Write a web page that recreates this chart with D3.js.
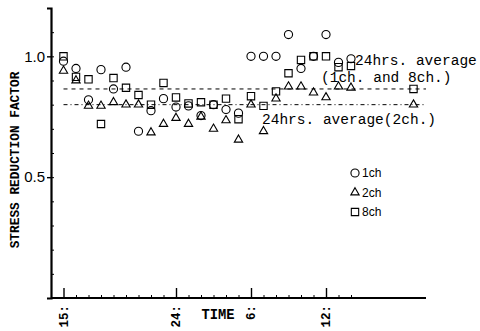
<!DOCTYPE html>
<html>
<head>
<meta charset="utf-8">
<script src="https://cdn.jsdelivr.net/npm/d3@7"></script>
<style>
  body { margin: 0; background: #fff; }
  svg { display: block; }
  .mono { font-family: "Liberation Mono", "DejaVu Sans Mono", monospace; }
</style>
</head>
<body>
<div id="chart"></div>
<script>
// hours counted from 15:00 on day one (24 = midnight, 30 = 6:00, 36 = 12:00)
var hours = [15, 16, 17, 18, 19, 20, 21, 22, 23, 24, 25, 26, 27, 28, 29, 30, 31, 32, 33, 34, 35, 36, 37, 38, 43];
var ch1 = [0.98, 0.95, 0.82, 0.945, 0.865, 0.955, 0.69, 0.775, 0.825, 0.79, 0.795, 0.755,
           0.80, 0.78, 0.765, 1.0, 1.0, 1.0, 1.09, 0.95, 1.0, 1.09, 0.975, 0.99, null];
var ch2 = [0.94, 0.90, 0.795, 0.795, 0.81, 0.80, 0.80, 0.685, 0.72, 0.745, 0.72, 0.75,
           0.70, 0.735, 0.655, 0.80, 0.69, 0.825, 0.875, 0.875, 0.85, 0.83, 0.875, 0.87, 0.80];
var ch8 = [1.0, 0.915, 0.905, 0.72, 0.91, 0.87, 0.84, 0.80, 0.89, 0.83, 0.805, 0.81,
           0.80, 0.825, 0.74, 0.835, 0.795, 0.855, 0.93, 0.985, 1.0, 1.0, 0.955, 0.96, 0.865];

var avg18 = 0.865;   // 24hrs average (1ch. and 8ch.)
var avg2 = 0.80;     // 24hrs average (2ch.)
var avgSpan = [15, 44];

var xTickHours = [15, 24, 30, 36];
var xTickLabels = ['15:', '24:', '6:', '12:'];
var yTickValues = [0.5, 1.0];
var yTickLabels = ['0.5', '1.0'];
var seriesNames = ['1ch', '2ch', '8ch'];

var width = 480, height = 331;

var x = d3.scaleLinear().domain([14, 44]).range([51, 426]);
var y = d3.scaleLinear().domain([0, 1.2]).range([298, 8]);

var svg = d3.select('#chart').append('svg')
    .attr('width', width)
    .attr('height', height);

var symbols = [
    d3.symbol().type(d3.symbolCircle).size(52),
    d3.symbol().type(d3.symbolTriangle).size(30),
    d3.symbol().type(d3.symbolSquare).size(54)
];

// average lines
svg.append('line')
    .attr('x1', x(avgSpan[0])).attr('x2', x(avgSpan[1]))
    .attr('y1', y(avg18)).attr('y2', y(avg18))
    .attr('stroke', '#000').attr('stroke-width', 1)
    .attr('stroke-dasharray', '4,4');
svg.append('line')
    .attr('x1', x(avgSpan[0])).attr('x2', x(avgSpan[1]))
    .attr('y1', y(avg2)).attr('y2', y(avg2))
    .attr('stroke', '#000').attr('stroke-width', 1)
    .attr('stroke-dasharray', '4,3,1,3');

// y axis: minor ticks inside, labelled ticks outside
var yAxisMinor = d3.axisRight(y)
    .tickValues(d3.range(1, 12).map(function(i) { return i / 10; }))
    .tickSize(3).tickFormat('');
svg.append('g')
    .attr('transform', 'translate(' + x(14) + ',0)')
    .call(yAxisMinor)
    .call(function(g) { g.select('.domain').remove(); })
    .selectAll('line').attr('stroke-width', 1);

var yAxis = d3.axisLeft(y)
    .tickValues(yTickValues)
    .tickSize(4).tickPadding(2)
    .tickFormat(function(d, i) { return yTickLabels[i]; });
svg.append('g')
    .attr('transform', 'translate(' + x(14) + ',0)')
    .call(yAxis)
    .call(function(g) {
        g.select('.domain').attr('stroke-width', 2.2);
        g.selectAll('line').attr('stroke-width', 1.4);
        g.selectAll('text')
            .attr('font-family', '"Liberation Sans", Arial, sans-serif')
            .attr('font-size', 15)
            .attr('fill', '#000');
    });

// x axis: hourly minor ticks, taller major ticks, rotated labels
var xAxisMinor = d3.axisTop(x)
    .tickValues(d3.range(16, 39))
    .tickSize(3).tickFormat('');
svg.append('g')
    .attr('transform', 'translate(0,' + y(0) + ')')
    .call(xAxisMinor)
    .call(function(g) { g.select('.domain').remove(); });

var xAxis = d3.axisTop(x)
    .tickValues(xTickHours)
    .tickSize(10)
    .tickFormat('');
svg.append('g')
    .attr('transform', 'translate(0,' + y(0) + ')')
    .call(xAxis)
    .call(function(g) {
        g.select('.domain').attr('stroke-width', 2.2).attr('d', 'M' + x(14) + ',0H' + x(44));
        g.selectAll('line').attr('stroke-width', 1.4);
    });

svg.selectAll('text.xlab')
    .data(xTickHours).enter()
    .append('text')
    .attr('class', 'xlab mono')
    .attr('transform', function(d) {
        return 'translate(' + (x(d) + 4) + ',305) rotate(-90)';
    })
    .attr('text-anchor', 'end')
    .attr('font-size', 12.5)
    .attr('font-weight', 'bold')
    .text(function(d, i) { return xTickLabels[i]; });

svg.append('text')
    .attr('class', 'mono')
    .attr('x', 218).attr('y', 319)
    .attr('text-anchor', 'middle')
    .attr('font-size', 13.8)
    .attr('font-weight', 'bold')
    .text('TIME');

svg.append('text')
    .attr('class', 'mono')
    .attr('transform', 'translate(19,160) rotate(-90)')
    .attr('text-anchor', 'middle')
    .attr('font-size', 12.8)
    .attr('font-weight', 'bold')
    .text('STRESS REDUCTION FACTOR');

// data points
[ch1, ch2, ch8].forEach(function(series, s) {
    var pts = hours.map(function(h, i) { return { h: h, v: series[i] }; })
        .filter(function(d) { return d.v != null; });
    svg.append('g').selectAll('path')
        .data(pts).enter()
        .append('path')
        .attr('d', symbols[s])
        .attr('transform', function(d) {
            return 'translate(' + x(d.h) + ',' + y(d.v) + ')';
        })
        .attr('fill', 'none')
        .attr('stroke', '#000')
        .attr('stroke-width', 1.1);
});

// annotations
svg.append('text').attr('class', 'mono')
    .attr('x', 355).attr('y', 65).attr('font-size', 14.5)
    .text('24hrs. average');
svg.append('text').attr('class', 'mono')
    .attr('x', 321).attr('y', 82).attr('font-size', 14.5)
    .text('(1ch. and 8ch.)');
svg.append('text').attr('class', 'mono')
    .attr('x', 262).attr('y', 124).attr('font-size', 14.5)
    .text('24hrs. average(2ch.)');

// legend
var legend = svg.append('g').selectAll('g')
    .data(seriesNames).enter()
    .append('g')
    .attr('transform', function(d, i) { return 'translate(355,' + (173 + i * 19.5) + ')'; });
legend.append('path')
    .attr('d', function(d, i) { return symbols[i](); })
    .attr('fill', 'none')
    .attr('stroke', '#000')
    .attr('stroke-width', 1.1);
legend.append('text')
    .attr('x', 7).attr('y', 4)
    .attr('font-family', '"Liberation Sans", Arial, sans-serif')
    .attr('font-size', 12)
    .text(function(d) { return d; });
</script>
</body>
</html>
